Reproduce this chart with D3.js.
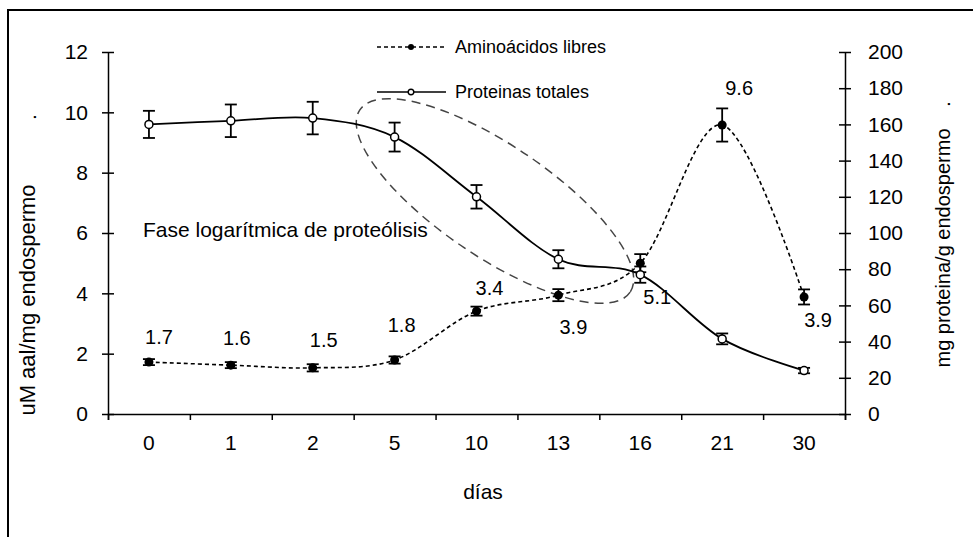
<!DOCTYPE html>
<html lang="es">
<head>
<meta charset="UTF-8">
<title>Aminoácidos libres y proteínas totales</title>
<script src="https://d3js.org/d3.v7.min.js"></script>
<style>
body{margin:0;background:#fff}
svg text{font-family:"Liberation Sans",Arial,sans-serif;fill:#000}
.axis path,.axis line{stroke:#000;stroke-width:1.5}
.axis text{font-size:21px}
</style>
</head>
<body>
<svg id="chart" width="973" height="537"></svg>
<script>
// ── data ──
var dias = ['0', '1', '2', '5', '10', '13', '16', '21', '30'];
var aminoacidos = [1.72, 1.62, 1.53, 1.79, 3.41, 3.94, 5.0, 9.58, 3.88];
var aminoErr = [0.1, 0.1, 0.12, 0.12, 0.15, 0.2, 0.3, 0.55, 0.25];
var aminoLabels = ['1.7', '1.6', '1.5', '1.8', '3.4', '3.9', '5.1', '9.6', '3.9'];
var proteinas = [160, 162, 163.5, 153, 120, 85.5, 77, 41.5, 24];
var protErr = [7.5, 9, 9, 8, 6.5, 5, 4.5, 3, 1.5];
var leftTicks = [0, 2, 4, 6, 8, 10, 12];
var rightTicks = [0, 20, 40, 60, 80, 100, 120, 140, 160, 180, 200];

// label nudges (px) relative to each amino point
var labelNudge = [[10, -25], [6, -27], [11, -28], [7, -35], [13, -23], [15, 32], [17, 34], [17, -37], [14, 23]];

var svg = d3.select('#chart');
var L = 108, R = 845, T = 52, B = 414;

// frame (cut off at right/bottom like the source)
svg.append('path').attr('d', 'M8,537V10H975')
  .attr('fill', 'none').attr('stroke', '#000').attr('stroke-width', 2);

var x = d3.scaleBand().domain(dias).range([L, R]);
var xEdge = d3.scaleLinear().domain([0, dias.length]).range([L, R]);
var yL = d3.scaleLinear().domain([0, 12]).range([B, T]);
var yR = d3.scaleLinear().domain([0, 200]).range([B, T]);
function cx(d) { return x(d) + x.bandwidth() / 2; }

// ── axes ──
svg.append('g').attr('class', 'axis').attr('transform', 'translate(0,' + B + ')')
  .call(d3.axisBottom(xEdge).tickValues(d3.range(0, dias.length + 1)).tickSize(6).tickFormat(''));
var gxl = svg.append('g').attr('class', 'axis').attr('transform', 'translate(0,' + B + ')')
  .call(d3.axisBottom(x).tickSize(0).tickPadding(21));
gxl.select('.domain').remove();

var gl = svg.append('g').attr('class', 'axis').attr('transform', 'translate(' + L + ',0)')
  .call(d3.axisLeft(yL).tickValues(leftTicks).tickSize(6).tickSizeOuter(0).tickPadding(14));
gl.selectAll('.tick line').attr('x1', -6).attr('x2', 6);

var gr = svg.append('g').attr('class', 'axis').attr('transform', 'translate(' + R + ',0)')
  .call(d3.axisRight(yR).tickValues(rightTicks).tickSize(6).tickSizeOuter(0).tickPadding(17));
gr.selectAll('.tick line').attr('x1', -6).attr('x2', 6);

// axis titles
svg.append('text').attr('x', 483).attr('y', 499).attr('text-anchor', 'middle')
  .style('font-size', '21px').text('días');
svg.append('text').attr('transform', 'translate(35,300) rotate(-90)').attr('text-anchor', 'middle')
  .style('font-size', '22px').text('uM aal/mg endospermo');
svg.append('text').attr('transform', 'translate(36,117) rotate(-90)').attr('text-anchor', 'middle')
  .style('font-size', '21px').text('.');
svg.append('text').attr('transform', 'translate(950,248) rotate(-90)').attr('text-anchor', 'middle')
  .style('font-size', '20px').text('mg proteina/g endospermo');
svg.append('text').attr('transform', 'translate(950,104) rotate(-90)').attr('text-anchor', 'middle')
  .style('font-size', '21px').text('.');

// ── proteolysis ellipse ──
svg.append('ellipse')
  .attr('transform', 'translate(495,201) rotate(34)')
  .attr('rx', 163).attr('ry', 56)
  .attr('fill', 'none').attr('stroke', '#444').attr('stroke-width', 1.5)
  .attr('stroke-dasharray', '9,6');

svg.append('text').attr('x', 143).attr('y', 237)
  .style('font-size', '21px').text('Fase logarítmica de proteólisis');

// ── series ──
var curve = d3.curveCatmullRom.alpha(0);

var amino = dias.map(function(d, i) { return { d: d, v: aminoacidos[i], e: aminoErr[i], lab: aminoLabels[i], n: labelNudge[i] }; });
var prot = dias.map(function(d, i) { return { d: d, v: proteinas[i], e: protErr[i] }; });

svg.append('path').datum(prot)
  .attr('d', d3.line().curve(curve).x(function(p) { return cx(p.d); }).y(function(p) { return yR(p.v); }))
  .attr('fill', 'none').attr('stroke', '#000').attr('stroke-width', 1.8);

svg.append('path').datum(amino)
  .attr('d', d3.line().curve(curve).x(function(p) { return cx(p.d); }).y(function(p) { return yL(p.v); }))
  .attr('fill', 'none').attr('stroke', '#000').attr('stroke-width', 1.6).attr('stroke-dasharray', '4,3');

function errorBars(data, y) {
  var g = svg.append('g').attr('stroke', '#000').attr('stroke-width', 1.8);
  data.forEach(function(p) {
    var c = cx(p.d), y0 = y(p.v - p.e), y1 = y(p.v + p.e);
    g.append('line').attr('x1', c).attr('x2', c).attr('y1', y0).attr('y2', y1);
    g.append('line').attr('x1', c - 6).attr('x2', c + 6).attr('y1', y0).attr('y2', y0);
    g.append('line').attr('x1', c - 6).attr('x2', c + 6).attr('y1', y1).attr('y2', y1);
  });
}
errorBars(prot, yR);
errorBars(amino, yL);

svg.append('g').selectAll('circle').data(prot).join('circle')
  .attr('cx', function(p) { return cx(p.d); }).attr('cy', function(p) { return yR(p.v); })
  .attr('r', 4).attr('fill', '#fff').attr('stroke', '#000').attr('stroke-width', 1.5);

svg.append('g').selectAll('circle').data(amino).join('circle')
  .attr('cx', function(p) { return cx(p.d); }).attr('cy', function(p) { return yL(p.v); })
  .attr('r', 4.5).attr('fill', '#000');

svg.append('g').selectAll('text').data(amino).join('text')
  .attr('x', function(p) { return cx(p.d) + p.n[0]; })
  .attr('y', function(p) { return yL(p.v) + p.n[1]; })
  .attr('text-anchor', 'middle').attr('dominant-baseline', 'central')
  .style('font-size', '20px').text(function(p) { return p.lab; });

// ── legend ──
var lg = svg.append('g');
lg.append('line').attr('x1', 377).attr('x2', 446).attr('y1', 47).attr('y2', 47)
  .attr('stroke', '#000').attr('stroke-width', 1.6).attr('stroke-dasharray', '4,3');
lg.append('circle').attr('cx', 411).attr('cy', 47).attr('r', 3).attr('fill', '#000');
lg.append('text').attr('x', 455).attr('y', 47).attr('dominant-baseline', 'central')
  .style('font-size', '18px').text('Aminoácidos libres');
lg.append('line').attr('x1', 377).attr('x2', 446).attr('y1', 92).attr('y2', 92)
  .attr('stroke', '#000').attr('stroke-width', 1.6);
lg.append('circle').attr('cx', 411).attr('cy', 92).attr('r', 2.8).attr('fill', '#fff')
  .attr('stroke', '#000').attr('stroke-width', 1.4);
lg.append('text').attr('x', 455).attr('y', 92).attr('dominant-baseline', 'central')
  .style('font-size', '18px').text('Proteinas totales');
</script>
</body>
</html>
